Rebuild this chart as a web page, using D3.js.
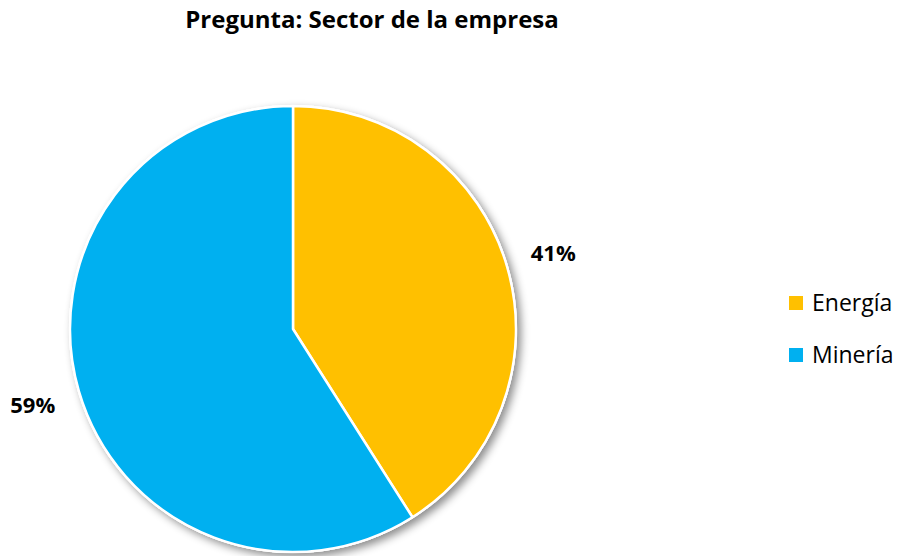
<!DOCTYPE html>
<html>
<head>
<meta charset="utf-8">
<script src="https://cdn.jsdelivr.net/npm/d3@7"></script>
<style>
  html, body { margin: 0; padding: 0; background: #fff; }
  svg { display: block; font-family: "Open Sans", Lato, sans-serif; }
</style>
</head>
<body>
<svg id="chart" width="908" height="556"></svg>
<script>
// Survey answers: company sector
const categories = ["Energía", "Minería"];
const shares = [41, 59];
const colors = ["#FFC000", "#00B0F0"];
const title = "Pregunta: Sector de la empresa";

const svg = d3.select("#chart");
const cx = 293, cy = 329, radius = 223;

const defs = svg.append("defs");
const shadow = defs.append("filter").attr("id", "pieShadow")
  .attr("x", "-20%").attr("y", "-20%").attr("width", "140%").attr("height", "140%");
shadow.append("feDropShadow")
  .attr("dx", 4).attr("dy", 4).attr("stdDeviation", 4)
  .attr("flood-color", "#000").attr("flood-opacity", 0.45);

svg.append("text")
  .attr("x", 372).attr("y", 28)
  .attr("text-anchor", "middle")
  .attr("font-size", 24).attr("font-weight", "bold")
  .attr("fill", "#000")
  .text(title);

const pie = d3.pie().sort(null).value(d => d)(shares);
const arc = d3.arc().innerRadius(0).outerRadius(radius);
const labelArc = d3.arc().innerRadius(271).outerRadius(271);

const g = svg.append("g").attr("transform", `translate(${cx},${cy})`);

// backing disc carries the shadow and white rim
g.append("circle").attr("r", radius + 1)
  .attr("fill", "#fff")
  .attr("filter", "url(#pieShadow)");

g.selectAll("path.slice").data(pie).join("path")
  .attr("class", "slice")
  .attr("d", arc)
  .attr("fill", (d, i) => colors[i])
  .attr("stroke", "#fff")
  .attr("stroke-width", 2.5)
  .attr("stroke-linejoin", "round");

g.selectAll("text.pct").data(pie).join("text")
  .attr("class", "pct")
  .attr("transform", d => `translate(${labelArc.centroid(d)})`)
  .attr("text-anchor", "middle")
  .attr("dy", "0.36em")
  .attr("font-size", 22).attr("font-weight", "bold")
  .attr("fill", "#000")
  .text(d => d.data + "%");

// legend
const legend = svg.append("g").attr("transform", "translate(789,296)");
const item = legend.selectAll("g").data(categories).join("g")
  .attr("transform", (d, i) => `translate(0,${i * 52})`);
item.append("rect").attr("width", 14).attr("height", 14)
  .attr("fill", (d, i) => colors[i]);
item.append("text").attr("x", 23).attr("y", 7).attr("dy", "0.36em")
  .attr("font-size", 23).attr("fill", "#000")
  .text(d => d);
</script>
</body>
</html>
